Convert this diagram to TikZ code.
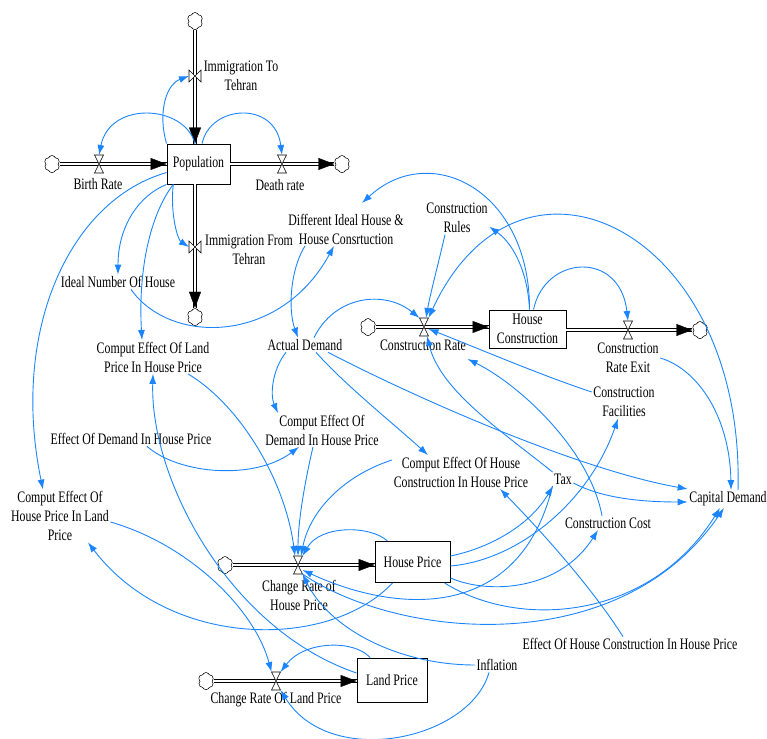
\documentclass[tikz,border=0pt]{standalone}
\usepackage{fontspec}
\setmainfont{Liberation Serif}[FakeStretch=0.74]
\usetikzlibrary{arrows.meta,decorations.markings,shapes.geometric}
\definecolor{linkblue}{RGB}{26,133,255}
\newcommand{\hvalve}[2]{\node[valveH] (#1) at (#2) {};
  \draw[vstroke] (#1.north west) -- (#1.north east) -- (#1.south west) -- (#1.south east) -- cycle;}
\newcommand{\vvalve}[2]{\node[valveV] (#1) at (#2) {};
  \draw[vstroke] (#1.north west) -- (#1.south west) -- (#1.north east) -- (#1.south east) -- cycle;}
\newcommand{\srcpuffs}[1]{%
  \foreach \dx/\dy in {0/4.8,-3.5/2.5,3.5/2.5,-3.3/-2.7,3.4/-2.6,0/-5}{\draw[black,line width=1.3pt] ([shift={(\dx pt,\dy pt)}]#1.center) circle[radius=3.3pt];}
  \foreach \dx/\dy in {0/4.8,-3.5/2.5,3.5/2.5,-3.3/-2.7,3.4/-2.6,0/-5,0/0}{\fill[white] ([shift={(\dx pt,\dy pt)}]#1.center) circle[radius=3.3pt];}}
\tikzset{
  lbl/.style={font=\fontsize{16}{19}\selectfont, align=center, inner sep=1.5pt},
  stock/.style={draw, line width=0.9pt, fill=white, inner sep=0pt, align=center, font=\fontsize{16}{19}\selectfont},
  pipe/.style={draw=black, line width=0.8pt, double distance=2.4pt},
  flowtip/.style={postaction={decorate, decoration={markings, mark=at position 1 with {\arrow[black]{Triangle[length=16pt,width=12pt]}}}}},
  srcbox/.style={ellipse, minimum width=15pt, minimum height=18pt, inner sep=0pt},
  valveH/.style={minimum width=9pt, minimum height=18pt, inner sep=0pt, outer sep=0pt},
  valveV/.style={minimum width=12pt, minimum height=12pt, inner sep=0pt, outer sep=0pt},
  vstroke/.style={draw=black, line width=0.6pt, fill=white},
  link/.style={draw=linkblue, line width=0.9pt, -{Latex[length=10pt,width=7pt]}},
}
\begin{document}
\begin{tikzpicture}[x=1pt,y=1pt]
\useasboundingbox (0,0) rectangle (767,738);
% stocks
\node[stock, minimum width=63pt, minimum height=40pt] (pop) at (198.5,574) {Population};
\node[stock, minimum width=77pt, minimum height=38pt] (hc) at (527.5,409) {House\\Construction};
\node[stock, minimum width=75pt, minimum height=41pt] (hp) at (412.5,176) {House Price};
\node[stock, minimum width=70pt, minimum height=44pt] (lp) at (392,58) {Land Price};
% clouds (sources and sinks)
\node[srcbox] (cTop) at (195,717) {};
\node[srcbox] (cBirth) at (52,574) {};
\node[srcbox] (cDeath) at (342,574) {};
\node[srcbox] (cBot) at (195,421) {};
\node[srcbox] (cCR) at (368,411) {};
\node[srcbox] (cExit) at (700,408) {};
\node[srcbox] (cHP) at (225,173) {};
\node[srcbox] (cLP) at (206,57) {};
% pipes
\draw[pipe] (cTop) -- (cTop |- pop.north);
\path[flowtip] (cTop) -- (cTop |- pop.north);
\draw[pipe] (cBirth) -- (pop);
\path[flowtip] (cBirth) -- (pop);
\draw[pipe] (pop) -- (cDeath);
\path[flowtip] (pop) -- (cDeath);
\draw[pipe] (cBot |- pop.south) -- (cBot);
\path[flowtip] (cBot |- pop.south) -- (cBot);
\draw[pipe] (cCR) -- (cCR -| hc.west);
\path[flowtip] (cCR) -- (cCR -| hc.west);
\draw[pipe] (hc.east |- cExit) -- (cExit);
\path[flowtip] (hc.east |- cExit) -- (cExit);
\draw[pipe] (cHP) -- (cHP -| hp.west);
\path[flowtip] (cHP) -- (cHP -| hp.west);
\draw[pipe] (cLP) -- (cLP -| lp.west);
\path[flowtip] (cLP) -- (cLP -| lp.west);
% cloud outlines
\srcpuffs{cTop}
\srcpuffs{cBirth}
\srcpuffs{cDeath}
\srcpuffs{cBot}
\srcpuffs{cCR}
\srcpuffs{cExit}
\srcpuffs{cHP}
\srcpuffs{cLP}
% valves
\vvalve{vTo}{195,662}
\hvalve{vBirth}{99,574}
\hvalve{vDeath}{282,574}
\vvalve{vFrom}{195,491}
\hvalve{vCR}{424,411}
\hvalve{vExit}{628,408}
\hvalve{vHP}{298,173}
\hvalve{vLP}{276,57}
% labels
\node[lbl] (lImmTo) at (241,662) {Immigration To\\Tehran};
\node[lbl] (lBirth) at (98,554) {Birth Rate};
\node[lbl] (lDeath) at (280,553) {Death rate};
\node[lbl] (lImmFrom) at (249,488) {Immigration From\\Tehran};
\node[lbl] (ideal) at (118,456) {Ideal Number Of House};
\node[lbl] (diff) at (346,509) {Different Ideal House \&\\House Consrtuction};
\node[lbl] (rules) at (457,520) {Construction\\Rules};
\node[lbl] (actual) at (305,393) {Actual Demand};
\node[lbl] (lCR) at (423,393) {Construction Rate};
\node[lbl] (lExit) at (628,380) {Construction\\Rate Exit};
\node[lbl] (facil) at (624,336) {Construction\\Facilities};
\node[lbl] (ceLand) at (153,381) {Comput Effect Of Land\\Price In House Price};
\node[lbl] (ceDem) at (322,308) {Comput Effect Of\\Demand In House Price};
\node[lbl] (effDem) at (131,299) {Effect Of Demand In House Price};
\node[lbl] (ceHC) at (461,266) {Comput Effect Of House\\Construction In House Price};
\node[lbl] (tax) at (563,259) {Tax};
\node[lbl] (capital) at (728,239) {Capital Demand};
\node[lbl] (cost) at (608,215) {Construction Cost};
\node[lbl] (ceHPL) at (60,222) {Comput Effect Of\\House Price In Land\\Price};
\node[lbl] (effHC) at (630,94) {Effect Of House Construction In House Price};
\node[lbl] (inflation) at (497,73) {Inflation};
\node[lbl] (lHP) at (299,143) {Change Rate of\\House Price};
\node[lbl] (lLP) at (276,38) {Change Rate Of Land Price};
% connectors
\draw[link] (pop.north west) .. controls (158,623) and (165,653) .. (vTo.west);
\draw[link] (pop.100) .. controls (185,633) and (110,638) .. (vBirth.north);
\draw[link] (pop.80) .. controls (210,633) and (275,638) .. (vDeath.north);
\draw[link] (pop.-141) .. controls (170,523) and (178,498) .. (vFrom.west);
\draw[link] (pop.south west) .. controls (140,543) and (118,513) .. (ideal.north);
\draw[link] (pop.-141) .. controls (150,523) and (138,468) .. ([xshift=-11pt]ceLand.north);
\draw[link] (pop.-165) .. controls (70,538) and (10,408) .. ([xshift=-17pt]ceHPL.north);
\draw[link] ([xshift=13pt]ideal.south) .. controls (170,393) and (280,393) .. ([xshift=-12pt]diff.south);
\draw[link] ([xshift=2pt]hc.north) .. controls (530,548) and (430,598) .. ([shift={(16pt,9pt)}]diff.north);
\draw[link] ([xshift=2pt]hc.north) .. controls (528,463) and (515,493) .. (rules.-15);
\draw[link] ([xshift=-12pt]rules.south) .. controls (438,473) and (430,443) .. ([xshift=2pt]vCR.north);
\draw[link] ([xshift=10pt]capital.north) .. controls (745,508) and (520,618) .. (vCR.north east);
\draw[link] ([xshift=6pt]hc.north) .. controls (545,483) and (620,488) .. (vExit.north);
\draw[link] ([xshift=-41pt]diff.south) .. controls (290,468) and (288,428) .. ([xshift=-7pt]actual.north);
\draw[link] ([xshift=9pt]actual.north) .. controls (335,443) and (385,448) .. (vCR.north west);
\draw[link] ([xshift=-19pt]actual.south) .. controls (272,368) and (270,343) .. ([xshift=-44pt]ceDem.north);
\draw[link] ([xshift=11pt]actual.south) .. controls (345,353) and (395,313) .. ([xshift=-33pt]ceHC.north);
\draw[link] ([xshift=23pt]actual.south) .. controls (420,338) and (580,268) .. ([yshift=10pt]capital.west);
\draw[link] ([xshift=16pt]effDem.south) .. controls (180,263) and (255,258) .. ([xshift=-23pt]ceDem.south);
\draw[link] ([xshift=35pt]ceLand.south) .. controls (240,333) and (285,258) .. ([xshift=-3pt]vHP.north);
\draw[link] ([xshift=-9pt]ceDem.south) .. controls (303,248) and (298,213) .. (vHP.north);
\draw[link] ([yshift=12pt]ceHC.west) .. controls (345,263) and (310,228) .. ([xshift=3pt]vHP.north);
\draw[link] ([xshift=-25pt]hp.north) .. controls (370,213) and (320,213) .. (vHP.north east);
\draw[link] (inflation.west) .. controls (400,73) and (330,108) .. (vHP.south east);
\draw[link] ([xshift=-8pt]inflation.south) .. controls (470,-2) and (330,-32) .. (vLP.south east);
\draw[link] ([xshift=-22pt]lp.north) .. controls (355,98) and (305,98) .. (vLP.north east);
\draw[link] ([yshift=-6pt]ceHPL.east) .. controls (190,193) and (255,128) .. (vLP.north west);
\draw[link] ([yshift=7pt]lp.west) .. controls (230,108) and (150,258) .. (ceLand.south);
\draw[link] ([xshift=-20pt]hp.south) .. controls (330,88) and (170,88) .. ([xshift=28pt]ceHPL.south);
\draw[link] ([yshift=6pt]hp.east) .. controls (490,190) and (530,213) .. ([xshift=-10pt]tax.south);
\draw[link] (tax.south west) .. controls (520,118) and (400,123) .. ([yshift=-5pt]vHP.east);
\draw[link] ([yshift=-4pt]hp.east) .. controls (520,178) and (590,238) .. ([xshift=-6pt]facil.south);
\draw[link] ([yshift=-16pt]hp.east) .. controls (490,143) and (560,148) .. ([xshift=-10pt]cost.south);
\draw[link] ([xshift=32pt]hp.south) .. controls (520,108) and (650,118) .. ([xshift=-8pt]capital.south);
\draw[link] (vHP.south east) .. controls (400,98) and (620,78) .. ([xshift=-4pt]capital.south);
\draw[link] ([xshift=-7pt]effHC.north) .. controls (590,153) and (540,208) .. ([xshift=39pt]ceHC.south);
\draw[link] ([yshift=-4pt]tax.east) .. controls (605,238) and (650,236) .. ([yshift=-3pt]capital.west);
\draw[link] (tax.north west) .. controls (500,308) and (440,348) .. ([xshift=3pt]vCR.south);
\draw[link] ([yshift=10pt]facil.west) .. controls (540,363) and (470,393) .. ([yshift=-2pt]vCR.east);
\draw[link] ([xshift=-6pt]cost.north) .. controls (590,288) and (520,353) .. ([yshift=-14pt]lCR.east);
\draw[link] (lExit.east) .. controls (700,368) and (730,318) .. ([xshift=3pt]capital.north);
\end{tikzpicture}
\end{document}
